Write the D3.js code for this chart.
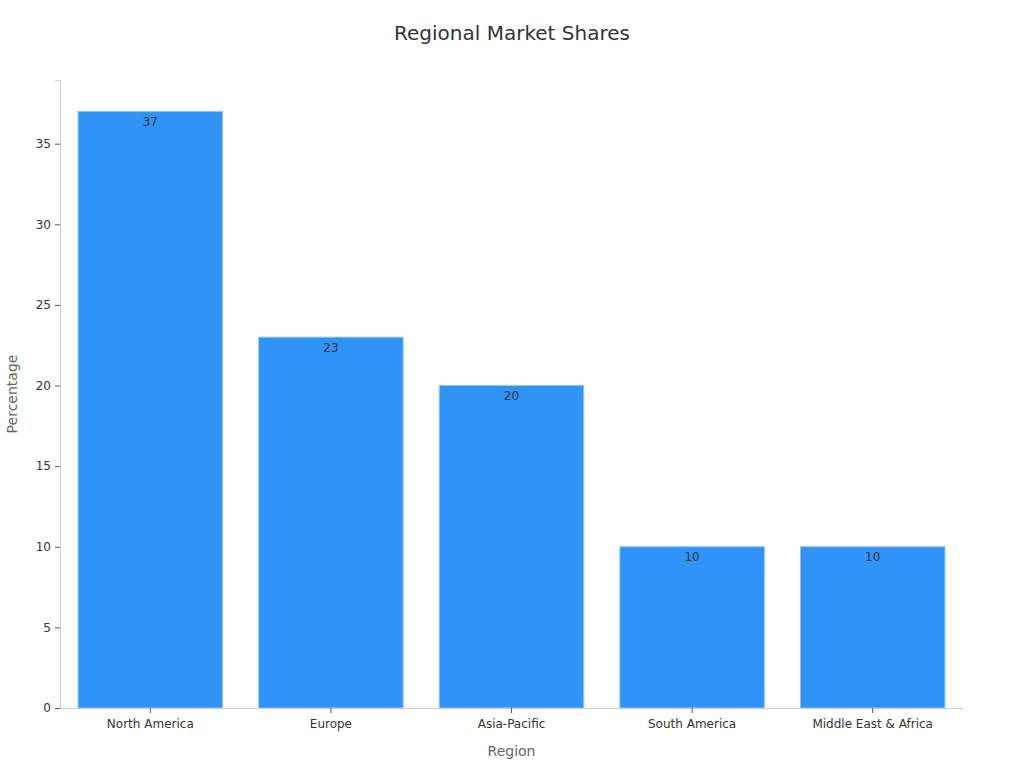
<!DOCTYPE html>
<html><head><meta charset="utf-8">
<script src="https://cdn.jsdelivr.net/npm/d3@7"></script>
<style>body{margin:0;background:#fff;font-family:"DejaVu Sans",sans-serif}</style>
</head><body><svg id="c" width="1024" height="768"></svg>
<script>
const categories = ["North America","Europe","Asia-Pacific","South America","Middle East & Africa"];
const values = [37,23,20,10,10];
const yTicks = [0,5,10,15,20,25,30,35];

const svg = d3.select("#c");
const m = {l:60, r:61, t:80, b:60};
const W = 1024, H = 768;
const x = d3.scaleBand().domain(categories).range([m.l, W-m.r]).paddingInner(0.2).paddingOuter(0.1);
const y = d3.scaleLinear().domain([0, 38.95]).range([H-m.b, m.t]);

svg.append("text").attr("x",512).attr("y",40).attr("text-anchor","middle")
  .attr("font-size",20).attr("fill","#333").text("Regional Market Shares");

svg.selectAll("rect.bar").data(values).enter().append("rect")
  .attr("x",(d,i)=>x(categories[i])).attr("y",d=>y(d))
  .attr("width",x.bandwidth()).attr("height",d=>y(0)-y(d))
  .attr("fill","#2f93f8").attr("stroke","#8cc4f9").attr("stroke-width",1);

svg.selectAll("text.val").data(values).enter().append("text")
  .attr("x",(d,i)=>x(categories[i])+x.bandwidth()/2).attr("y",d=>y(d)+14.5)
  .attr("text-anchor","middle").attr("font-size",12).attr("fill","#333").text(d=>d);

const gy = svg.append("g").attr("transform",`translate(${m.l},0)`)
  .call(d3.axisLeft(y).tickValues(yTicks).tickSize(5).tickPadding(4));
gy.select(".domain").attr("stroke","#ccc");
gy.selectAll(".tick line").attr("stroke","#555");
gy.selectAll(".tick text").attr("font-size",12).attr("fill","#333").attr("font-family","DejaVu Sans");

const gx = svg.append("g").attr("transform",`translate(0,${H-m.b})`)
  .call(d3.axisBottom(x).tickSize(5).tickSizeOuter(0).tickPadding(6));
gx.select(".domain").attr("stroke","#ccc");
gx.selectAll(".tick line").attr("stroke","#555");
gx.selectAll(".tick text").attr("font-size",12).attr("fill","#333").attr("font-family","DejaVu Sans");

svg.append("text").attr("x",(m.l+W-m.r)/2).attr("y",756).attr("text-anchor","middle")
  .attr("font-size",14).attr("fill","#666").text("Region");
svg.append("text").attr("transform",`translate(17,${(m.t+H-m.b)/2}) rotate(-90)`).attr("text-anchor","middle")
  .attr("font-size",14).attr("fill","#666").text("Percentage");
</script></body></html>
